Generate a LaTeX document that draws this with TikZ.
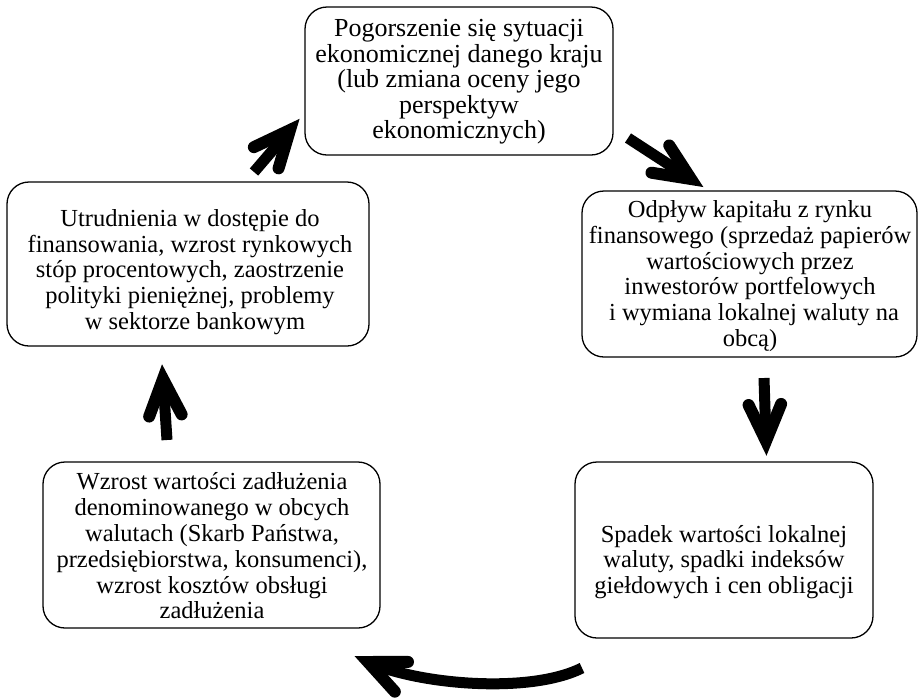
\documentclass[tikz,border=0pt]{standalone}
\usepackage{fontspec}
\setmainfont{Liberation Serif}
\usetikzlibrary{calc}
\begin{document}
\begin{tikzpicture}[x=1pt,y=-1pt,
  box/.style={draw, line width=1.3pt, rounded corners=22pt, inner sep=0pt},
  txt/.style={align=center, font=\fontsize{24.5}{25.8}\selectfont, inner sep=0pt},
  bigtxt/.style={txt, font=\fontsize{26}{25.5}\selectfont},
  shaft/.style={line width=11pt, line cap=butt},
  barb/.style={line width=12pt, line cap=round}]
\useasboundingbox (0,0) rectangle (918,697);

% boxes of the cycle
\node[box, minimum width=308pt, minimum height=148pt] (top) at (459,81) {};
\node[box, minimum width=335pt, minimum height=166pt] (right) at (749.5,274) {};
\node[box, minimum width=362pt, minimum height=164pt] (left) at (188,264) {};
\node[box, minimum width=337pt, minimum height=166pt] (botleft) at (211.5,545) {};
\node[box, minimum width=298pt, minimum height=176pt] (botright) at (724,550) {};

% texts
\node[bigtxt] (ttop) at (459,82) {Pogorszenie się sytuacji\\ekonomicznej danego kraju\\(lub zmiana oceny jego\\perspektyw\\ekonomicznych)};
\node[txt] (tright) at (750,276) {Odpływ kapitału z rynku\\finansowego (sprzedaż papierów\\wartościowych przez\\inwestorów portfelowych\hspace*{8pt}\\\hspace*{8pt}i wymiana lokalnej waluty na\\obcą)};
\node[txt] (tleft) at (190,272) {Utrudnienia w dostępie do\\finansowania, wzrost rynkowych\\stóp procentowych, zaostrzenie\\polityki pieniężnej, problemy\hspace*{10pt}\\\hspace*{10pt}w sektorze bankowym};
\node[txt] (tbotleft) at (212,546) {Wzrost wartości zadłużenia\\denominowanego w obcych\\walutach (Skarb Państwa,\\przedsiębiorstwa, konsumenci),\\wzrost kosztów obsługi\\zadłużenia};
\node[txt] (tbotright) at (724,562) {Spadek wartości lokalnej\\waluty, spadki indeksów\\giełdowych i cen obligacji};

% arrow ends
\coordinate (a1s) at (254,172); \coordinate (a1t) at (290,130);
\coordinate (a2s) at (628,138); \coordinate (a2t) at (691,179);
\coordinate (a3s) at (764,378); \coordinate (a3t) at (766,441);
\coordinate (a4s) at (167,440); \coordinate (a4t) at (163,379);
\coordinate (a5s) at (582,668); \coordinate (a5t) at (368,662);
\coordinate (a5c) at (420,685);

% straight thick arrows
\foreach \s/\t in {a1s/a1t, a2s/a2t, a3s/a3t, a4s/a4t}{
  \draw[shaft] (\s) -- (\t);
  \draw[barb] ($(\t)!40pt!24:(\s)$) -- (\t) -- ($(\t)!40pt!-24:(\s)$);
}
% curved thick arrow at the bottom
\draw[shaft] (a5s) .. controls (530,694) and (a5c) .. (a5t);
\draw[barb] ($(a5t)!40pt!24:(a5c)$) -- (a5t) -- ($(a5t)!40pt!-24:(a5c)$);
\end{tikzpicture}
\end{document}
